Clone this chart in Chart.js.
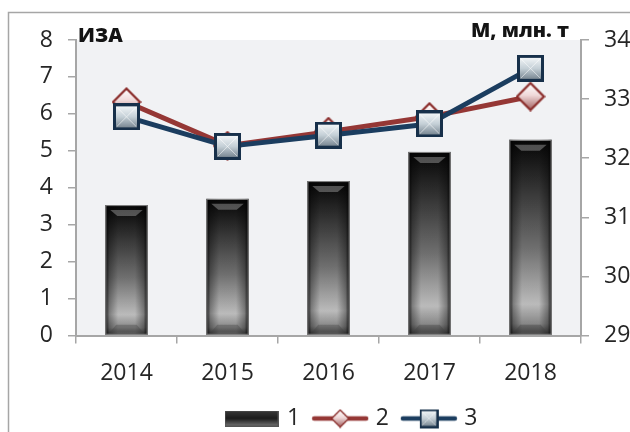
<!DOCTYPE html>
<html>
<head>
<meta charset="utf-8">
<script src="https://cdn.jsdelivr.net/npm/chart.js@4.4.1/dist/chart.umd.min.js"></script>
<style>
html, body { margin: 0; padding: 0; background: #fff; overflow: hidden; }
canvas { display: block; }
</style>
</head>
<body>
<canvas id="chart" width="700" height="432"></canvas>
<script>
// data
const years = ['2014', '2015', '2016', '2017', '2018'];
const series1 = [3.53, 3.70, 4.18, 4.97, 5.30];      // bars, left axis
const series2 = [6.32, 5.14, 5.52, 5.92, 6.47];      // red diamonds, left axis
const series3 = [32.70, 32.20, 32.39, 32.58, 33.52]; // blue squares, right axis
const leftRange = [0, 8];
const rightRange = [29, 34];
const legendNames = ['1', '2', '3'];
const axisTitles = ['ИЗА', 'М, млн. т'];

const fontFamily = '"Open Sans", sans-serif';
const textColor = '#262626';
const axisColor = '#a6a6a6';

const makeCanvas = (w, h) => {
    const c = document.createElement('canvas');
    c.width = w;
    c.height = h;
    return c;
};

// blue square marker
const squareMarker = (() => {
    const c = makeCanvas(27, 27);
    const g = c.getContext('2d');
    g.fillStyle = '#17304a';
    g.fillRect(0, 0, 27, 27);
    const inner = g.createLinearGradient(0, 3, 0, 24);
    inner.addColorStop(0, '#f1f5f7');
    inner.addColorStop(0.5, '#c5d0d7');
    inner.addColorStop(1, '#7b8994');
    g.fillStyle = inner;
    g.fillRect(3, 3, 21, 21);
    g.strokeStyle = 'rgba(255,255,255,0.55)';
    g.lineWidth = 1;
    g.beginPath();
    g.moveTo(4, 4); g.lineTo(23, 23);
    g.moveTo(23, 4); g.lineTo(4, 23);
    g.stroke();
    return c;
})();

// red diamond marker
const diamondMarker = (() => {
    const c = makeCanvas(30, 30);
    const g = c.getContext('2d');
    const fill = g.createLinearGradient(0, 2, 0, 28);
    fill.addColorStop(0, '#ffffff');
    fill.addColorStop(0.45, '#f0d9d9');
    fill.addColorStop(1, '#a46464');
    g.beginPath();
    g.moveTo(15, 1.5); g.lineTo(28.5, 15); g.lineTo(15, 28.5); g.lineTo(1.5, 15);
    g.closePath();
    g.fillStyle = fill;
    g.fill();
    g.strokeStyle = '#8a2c2a';
    g.lineWidth = 2.2;
    g.stroke();
    return c;
})();

const barLegend = (() => {
    const c = makeCanvas(54, 16);
    const g = c.getContext('2d');
    const fill = g.createLinearGradient(0, 0, 0, 16);
    fill.addColorStop(0, '#3a3a3a');
    fill.addColorStop(0.5, '#1c1c1c');
    fill.addColorStop(1, '#777777');
    g.fillStyle = fill;
    g.fillRect(0, 0, 54, 16);
    g.strokeStyle = '#555';
    g.strokeRect(0.5, 0.5, 53, 15);
    return c;
})();

// legend sample: short line with a smaller marker in the middle
const lineLegend = (color, marker) => {
    const c = makeCanvas(58, 30);
    const g = c.getContext('2d');
    g.strokeStyle = color;
    g.lineWidth = 4.5;
    g.lineCap = 'round';
    g.beginPath();
    g.moveTo(3, 15); g.lineTo(55, 15);
    g.stroke();
    const s = 19;
    g.drawImage(marker, 29 - s / 2, 15 - s / 2, s, s);
    return c;
};

const barFill = context => {
    const chart = context.chart;
    const y = chart.scales.y;
    if (!y || context.raw === undefined) return '#444';
    const top = y.getPixelForValue(context.raw);
    const base = y.getPixelForValue(0);
    const g = chart.ctx.createLinearGradient(0, top, 0, base);
    g.addColorStop(0, '#050505');
    g.addColorStop(0.12, '#1c1c1c');
    g.addColorStop(0.55, '#727272');
    g.addColorStop(0.84, '#c2c2c2');
    g.addColorStop(0.94, '#8c8c8c');
    g.addColorStop(1, '#3c3c3c');
    return g;
};

const frame = {
    id: 'frame',
    beforeDraw(chart) {
        const {ctx, chartArea} = chart;
        ctx.save();
        ctx.strokeStyle = axisColor;
        ctx.lineWidth = 1.5;
        ctx.strokeRect(8.5, 12.5, 683, 440);
        ctx.fillStyle = '#f1f2f4';
        ctx.fillRect(chartArea.left, chartArea.top, chartArea.right - chartArea.left, chartArea.bottom - chartArea.top);
        ctx.restore();
    }
};

const barShade = {
    id: 'barShade',
    afterDatasetDraw(chart, args) {
        if (args.index !== 0) return;
        const c = chart.ctx;
        args.meta.data.forEach(bar => {
            const {x, y, base, width} = bar.getProps(['x', 'y', 'base', 'width'], true);
            const l = x - width / 2;
            const r = x + width / 2;
            const h = c.createLinearGradient(l, 0, r, 0);
            h.addColorStop(0, 'rgba(0,0,0,0.85)');
            h.addColorStop(0.1, 'rgba(0,0,0,0.35)');
            h.addColorStop(0.3, 'rgba(0,0,0,0.04)');
            h.addColorStop(0.7, 'rgba(0,0,0,0.04)');
            h.addColorStop(0.9, 'rgba(0,0,0,0.35)');
            h.addColorStop(1, 'rgba(0,0,0,0.85)');
            c.save();
            c.fillStyle = h;
            c.fillRect(l, y, width, base - y);
            c.fillStyle = 'rgba(150,150,150,0.5)';
            c.beginPath();
            c.moveTo(l + 5, y + 5); c.lineTo(r - 5, y + 5);
            c.lineTo(r - 12, y + 11); c.lineTo(l + 12, y + 11);
            c.closePath();
            c.fill();
            c.fillStyle = 'rgba(60,60,60,0.35)';
            c.beginPath();
            c.moveTo(l + 5, base - 3); c.lineTo(r - 5, base - 3);
            c.lineTo(r - 11, base - 10); c.lineTo(l + 11, base - 10);
            c.closePath();
            c.fill();
            c.strokeStyle = '#7f7f7f';
            c.lineWidth = 1;
            c.strokeRect(l + 0.5, y + 0.5, width - 1, base - y - 1);
            c.restore();
        });
    }
};

const titles = {
    id: 'titles',
    afterDraw(chart) {
        const ctx = chart.ctx;
        ctx.save();
        ctx.fillStyle = '#141414';
        ctx.font = '800 20px ' + fontFamily;
        ctx.textBaseline = 'alphabetic';
        ctx.textAlign = 'left';
        ctx.fillText(axisTitles[0], 78, 42);
        ctx.textAlign = 'right';
        ctx.fillText(axisTitles[1], 569, 37);
        ctx.restore();
    }
};

const yAxis = (position, range, width) => ({
    type: 'linear',
    position: position,
    min: range[0],
    max: range[1],
    ticks: {stepSize: 1, padding: 15, color: textColor, font: {family: fontFamily, size: 23}},
    grid: {drawOnChartArea: false, drawTicks: true, tickLength: 8, color: axisColor, lineWidth: 1.5},
    border: {display: true, color: axisColor, width: 2},
    afterFit: scale => { scale.width = width; }
});

new Chart(document.getElementById('chart'), {
    data: {
        labels: years,
        datasets: [
            {
                type: 'bar',
                label: legendNames[0],
                data: series1,
                yAxisID: 'y',
                order: 3,
                backgroundColor: barFill,
                borderColor: '#7f7f7f',
                borderWidth: 1,
                barPercentage: 0.42,
                categoryPercentage: 1
            },
            {
                type: 'line',
                label: legendNames[1],
                data: series2,
                yAxisID: 'y',
                order: 2,
                borderColor: '#953735',
                borderWidth: 5,
                borderJoinStyle: 'round',
                pointStyle: diamondMarker,
                pointRadius: 14,
                pointHoverRadius: 14,
                clip: false
            },
            {
                type: 'line',
                label: legendNames[2],
                data: series3,
                yAxisID: 'y1',
                order: 1,
                borderColor: '#1b3d5f',
                borderWidth: 5,
                borderJoinStyle: 'round',
                pointStyle: squareMarker,
                pointRadius: 14,
                pointHoverRadius: 14,
                clip: false
            }
        ]
    },
    options: {
        responsive: false,
        animation: false,
        layout: {padding: {left: 5, right: 0, top: 40, bottom: -8}},
        plugins: {
            tooltip: {enabled: false},
            legend: {
                position: 'bottom',
                labels: {
                    usePointStyle: true,
                    pointStyleWidth: 48,
                    padding: 16,
                    color: textColor,
                    font: {family: fontFamily, size: 23},
                    generateLabels: () => [
                        {text: legendNames[0], pointStyle: barLegend, fontColor: textColor, datasetIndex: 0, lineWidth: 0, hidden: false},
                        {text: legendNames[1], pointStyle: lineLegend('#953735', diamondMarker), fontColor: textColor, datasetIndex: 1, lineWidth: 0, hidden: false},
                        {text: legendNames[2], pointStyle: lineLegend('#1b3d5f', squareMarker), fontColor: textColor, datasetIndex: 2, lineWidth: 0, hidden: false}
                    ]
                }
            }
        },
        scales: {
            x: {
                type: 'category',
                offset: true,
                ticks: {padding: 16, color: textColor, font: {family: fontFamily, size: 23}},
                grid: {offset: true, drawOnChartArea: false, drawTicks: true, tickLength: 8, color: axisColor, lineWidth: 1.5},
                border: {display: true, color: axisColor, width: 2},
                afterFit: scale => { scale.height = 55.5; }
            },
            y: yAxis('left', leftRange, 71),
            y1: yAxis('right', rightRange, 119)
        }
    },
    plugins: [frame, barShade, titles]
});
</script>
</body>
</html>
